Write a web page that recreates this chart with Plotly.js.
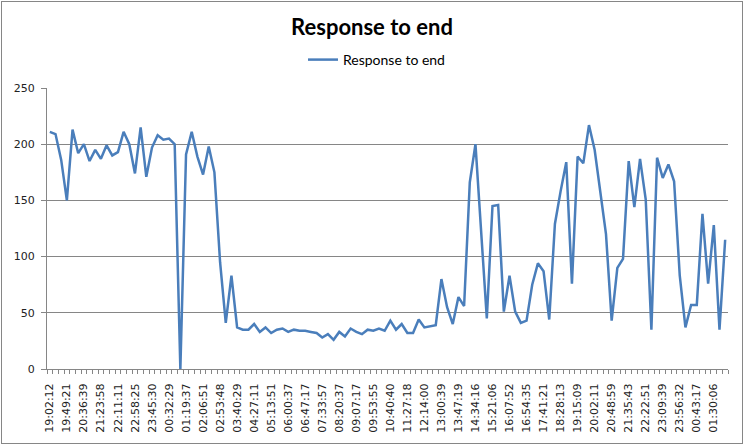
<!DOCTYPE html>
<html>
<head>
<meta charset="utf-8">
<script src="https://cdn.plot.ly/plotly-3.0.1.min.js"></script>
<style>
  html, body { margin: 0; padding: 0; background: #fff; }
  #wrap { position: relative; width: 744px; height: 445px; }
  #chart { width: 744px; height: 445px; }
  #frame { position: absolute; left: 1px; top: 1px; width: 740px; height: 441px; border: 1px solid #868686; pointer-events: none; }
</style>
</head>
<body>
<div id="wrap">
  <div id="chart"></div>
  <div id="frame"></div>
</div>
<script>
// Tick labels (every 3rd category is labelled)
const tickLabels = [
  "19:02:12","19:49:21","20:36:39","21:23:58","22:11:11","22:58:25","23:45:30","00:32:29",
  "01:19:37","02:06:51","02:53:48","03:40:29","04:27:11","05:13:51","06:00:37","06:47:17",
  "07:33:57","08:20:37","09:07:17","09:53:55","10:40:40","11:27:18","12:14:00","13:00:39",
  "13:47:19","14:34:16","15:21:06","16:07:52","16:54:35","17:41:21","18:28:13","19:15:09",
  "20:02:11","20:48:59","21:35:43","22:22:51","23:09:39","23:56:32","00:43:17","01:30:06"
];
const labelStep = 3;

// Series values (120 samples)
const responseToEnd = [
  211, 209, 186, 150, 213, 192, 200, 185, 195, 187,
  199, 190, 193, 211, 200, 174, 215, 171, 197, 208,
  204, 205, 200, 0, 191, 211, 189, 173, 198, 175,
  95, 41, 83, 37, 35, 35, 40, 33, 37, 32,
  35, 36, 33, 35, 34, 34, 33, 32, 28, 31,
  26, 33, 29, 36, 33, 31, 35, 34, 36, 34,
  43, 35, 40, 32, 32, 44, 37, 38, 39, 80,
  55, 40, 64, 56, 166, 200, 121, 45, 145, 146,
  51, 83, 51, 41, 43, 75, 94, 87, 44, 129,
  158, 184, 76, 189, 183, 217, 195, 157, 120, 43,
  90, 98, 185, 144, 187, 151, 35, 188, 170, 182,
  167, 83, 37, 57, 57, 138, 76, 128, 35, 115
];

const categoryIndex = responseToEnd.map((_, i) => i);
const tickPositions = tickLabels.map((_, k) => k * labelStep);

const trace = {
  type: 'scatter',
  mode: 'lines',
  name: 'Response to end',
  x: categoryIndex,
  y: responseToEnd,
  line: { color: '#4A7EBB', width: 2.5 },
  hoverinfo: 'skip'
};

const gridGray = '#868686';

const layout = {
  width: 744,
  height: 445,
  margin: { l: 47, r: 16, t: 88, b: 76 },
  paper_bgcolor: '#ffffff',
  plot_bgcolor: '#ffffff',
  font: { family: 'DejaVu Sans, Verdana, sans-serif', size: 11, color: '#222222' },
  title: {
    text: '<b>Response to end</b>',
    font: { family: 'Lato, Carlito, sans-serif', size: 22, color: '#000000' },
    x: 0.5, xref: 'container', xanchor: 'center',
    y: 1 - 27 / 445, yref: 'container', yanchor: 'middle'
  },
  showlegend: true,
  legend: {
    orientation: 'h',
    x: 303 / 744, xref: 'container', xanchor: 'left',
    y: 1 - 60 / 445, yref: 'container', yanchor: 'middle',
    font: { family: 'Lato, Carlito, sans-serif', size: 14, color: '#000000' },
    itemwidth: 30,
    bgcolor: 'rgba(0,0,0,0)'
  },
  xaxis: {
    range: [-0.5, responseToEnd.length - 0.5],
    tickmode: 'array',
    tickvals: tickPositions,
    ticktext: tickLabels,
    tickangle: -90,
    ticks: '',
    ticklabelstandoff: 9,
    showline: true,
    linecolor: gridGray,
    linewidth: 1,
    showgrid: false,
    zeroline: false,
    tickfont: { family: 'DejaVu Sans, Verdana, sans-serif', size: 11, color: '#222222' },
    minor: {
      ticks: 'outside', ticklen: 4, tickcolor: gridGray, tickwidth: 1,
      tick0: -0.5, dtick: 1, showgrid: false
    }
  },
  yaxis: {
    range: [0, 250],
    tickmode: 'linear',
    tick0: 0,
    dtick: 50,
    ticks: 'outside',
    ticklen: 5,
    tickcolor: gridGray,
    showline: true,
    linecolor: gridGray,
    linewidth: 1,
    showgrid: true,
    gridcolor: gridGray,
    gridwidth: 1,
    zeroline: false,
    ticklabelstandoff: 4,
    tickfont: { family: 'DejaVu Sans, Verdana, sans-serif', size: 11, color: '#222222' }
  }
};

Plotly.newPlot('chart', [trace], layout, { staticPlot: true, displayModeBar: false });
</script>
</body>
</html>
